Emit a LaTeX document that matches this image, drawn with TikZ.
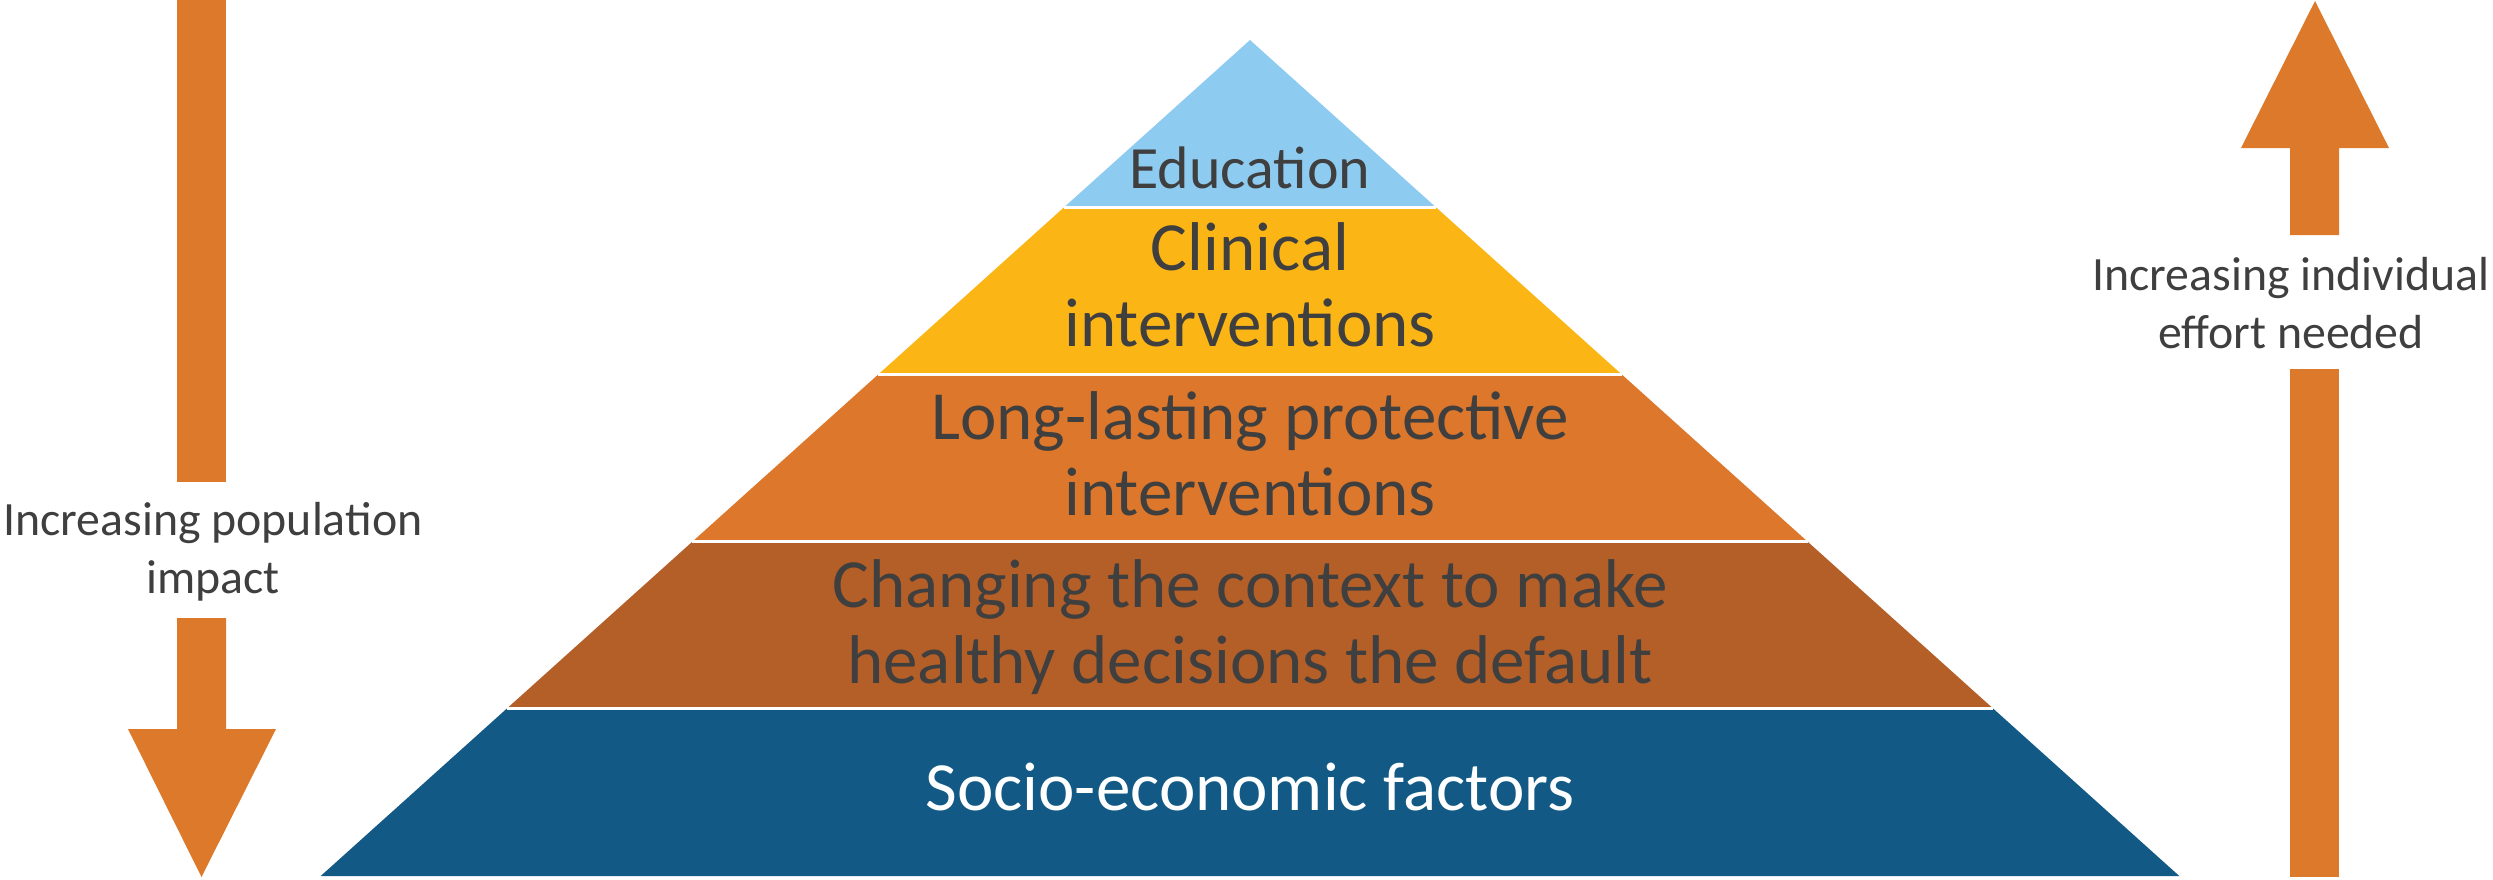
\documentclass[tikz,border=0pt]{standalone}
\usepackage{fontspec}
\setmainfont{Carlito}
\usetikzlibrary{calc}

\definecolor{eduBlue}{HTML}{8ECBF0}
\definecolor{clinGold}{HTML}{FBB616}
\definecolor{protOrange}{HTML}{DC772B}
\definecolor{ctxBrown}{HTML}{B45F28}
\definecolor{socBlue}{HTML}{125A85}
\definecolor{arrowOrange}{HTML}{DC792B}
\definecolor{txtGray}{HTML}{3F3F3F}

\begin{document}
\begin{tikzpicture}[x=1pt,y=-1pt,
  bigtext/.style={font=\fontsize{69}{76}\selectfont, text=txtGray, align=center, inner sep=0pt, anchor=base},
  toptext/.style={bigtext, font=\fontsize{60}{70}\selectfont},
  sidetext/.style={font=\fontsize{47.8}{58}\selectfont, text=txtGray, align=center, inner sep=0pt, anchor=base},
  blockarrow/.style={fill=arrowOrange, draw=none},
  separator/.style={draw=white, line width=3pt}]

\useasboundingbox (0,0) rectangle (2493,879);

% pyramid outline
\coordinate (apex) at (1250,40);
\coordinate (bl) at (320.7,876);
\coordinate (br) at (2179.3,876);

% coloured tiers
\begin{scope}
  \clip (apex) -- (bl) -- (br) -- cycle;
  \fill[eduBlue]    (300,0)     rectangle (2200,207.2);
  \fill[clinGold]   (300,207.2) rectangle (2200,374.4);
  \fill[protOrange] (300,374.4) rectangle (2200,541.6);
  \fill[ctxBrown]   (300,541.6) rectangle (2200,708.8);
  \fill[socBlue]    (300,708.8) rectangle (2200,880);
\end{scope}

% white gaps between tiers
\foreach \t in {0.2,0.4,0.6,0.8}
  \draw[separator] ($(apex)!\t!(bl)$) -- ($(apex)!\t!(br)$);

% tier labels (base anchor = baseline of the last line)
\node[toptext] (education) at (1250,188) {Education};
\node[bigtext] (clinical) at (1250,346.7) {Clinical\\interventions};
\node[bigtext] (protective) at (1250,515) {Long-lasting protective\\interventions};
\node[bigtext] (context) at (1250,683) {Changing the context to make\\healthy decisions the default};
\node[bigtext, text=white] (socio) at (1250,810) {Socio-economic factors};

% left block arrow (downwards)
\fill[blockarrow] (177,0) rectangle (226,482);
\fill[blockarrow] (177,618) -- (226,618) -- (226,729) -- (276,729)
  -- (201.5,877) -- (128,729) -- (177,729) -- cycle;
\node[sidetext] (population) at (213,593) {Increasing population\\impact};

% right block arrow (upwards)
\fill[blockarrow] (2290,369) rectangle (2339,877);
\fill[blockarrow] (2290,235) -- (2290,148) -- (2241,148) -- (2315,1)
  -- (2389,148) -- (2339,148) -- (2339,235) -- cycle;
\node[sidetext] (effort) at (2291,348) {Increasing individual\\effort needed};

\end{tikzpicture}
\end{document}
